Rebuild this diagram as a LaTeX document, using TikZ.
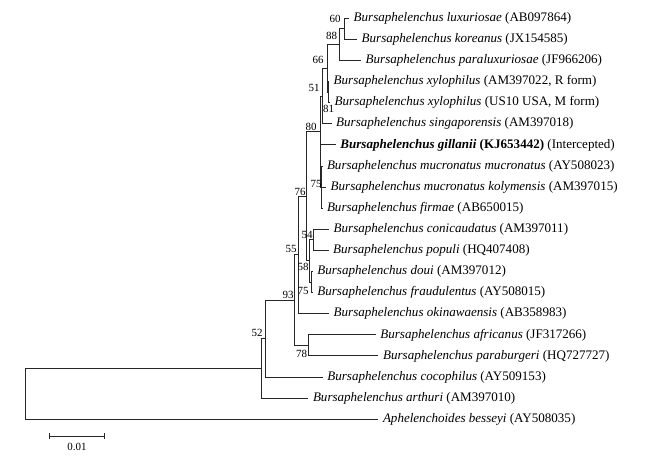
\documentclass[tikz,border=0pt]{standalone}
\usepackage{fontspec}
\setmainfont{Liberation Serif}
\usetikzlibrary{arrows.meta}
\tikzset{
  br_ln/.style = {line width=0.9bp, draw=black!85},
  leaf_n/.style = {anchor=west, inner xsep=4.5bp, inner ysep=0pt, font=\fontsize{13.1}{15}\selectfont},
  boot_n/.style = {inner sep=0pt, font=\fontsize{11}{13}\selectfont},
  scale_t/.style = {inner sep=0pt, font=\fontsize{11}{13}\selectfont},
}

\begin{document}
\begin{tikzpicture}[x=1bp, y=-1bp]
  \useasboundingbox (0,0) rectangle (645,456);
  % internal nodes
  \coordinate (root) at (25.7,393.75);
  \coordinate (n52) at (261.7,368.3);
  \coordinate (nY) at (265.7,338.55);
  \coordinate (n93) at (294.3,300.1);
  \coordinate (n78) at (308.3,345.35);
  \coordinate (n55) at (298.7,254.85);
  \coordinate (n76) at (306.7,196);
  \coordinate (nB) at (309,260.95);
  \coordinate (n54) at (313.3,239.85);
  \coordinate (nC) at (311,282.05);
  \coordinate (n80) at (320,131.05);
  \coordinate (nX) at (320.7,166);
  \coordinate (n75) at (321.7,187.1);
  \coordinate (n51) at (322.7,96.1);
  \coordinate (n66) at (327.3,68.4);
  \coordinate (n81) at (328,92.15);
  \coordinate (n88) at (339.3,44.7);
  \coordinate (n60) at (344.3,28.85);
  % leaves
  \node [leaf_n] (t0) at (349,18.3) {\textit{Bursaphelenchus luxuriosae} (AB097864)};
  \node [leaf_n] (t1) at (357,39.4) {\textit{Bursaphelenchus koreanus} (JX154585)};
  \node [leaf_n] (t2) at (361,60.5) {\textit{Bursaphelenchus paraluxuriosae} (JF966206)};
  \node [leaf_n] (t3) at (329,81.6) {\textit{Bursaphelenchus xylophilus} (AM397022, R form)};
  \node [leaf_n] (t4) at (330,102.7) {\textit{Bursaphelenchus xylophilus} (US10 USA, M form)};
  \node [leaf_n] (t5) at (331.5,123.8) {\textit{Bursaphelenchus singaporensis} (AM397018)};
  \node [leaf_n] (t6) at (335.7,144.9) {\textbf{\textit{Bursaphelenchus gillanii} (KJ653442)} (Intercepted)};
  \node [leaf_n] (t7) at (322.3,166) {\textit{Bursaphelenchus mucronatus mucronatus} (AY508023)};
  \node [leaf_n] (t8) at (326,187.1) {\textit{Bursaphelenchus mucronatus kolymensis} (AM397015)};
  \node [leaf_n] (t9) at (322.3,208.2) {\textit{Bursaphelenchus firmae} (AB650015)};
  \node [leaf_n] (t10) at (329,229.3) {\textit{Bursaphelenchus conicaudatus} (AM397011)};
  \node [leaf_n] (t11) at (328.5,250.4) {\textit{Bursaphelenchus populi} (HQ407408)};
  \node [leaf_n] (t12) at (312.7,271.5) {\textit{Bursaphelenchus doui} (AM397012)};
  \node [leaf_n] (t13) at (312.7,292.6) {\textit{Bursaphelenchus fraudulentus} (AY508015)};
  \node [leaf_n] (t14) at (329,313.7) {\textit{Bursaphelenchus okinawaensis} (AB358983)};
  \node [leaf_n] (t15) at (375.7,334.8) {\textit{Bursaphelenchus africanus} (JF317266)};
  \node [leaf_n] (t16) at (378.4,355.9) {\textit{Bursaphelenchus paraburgeri} (HQ727727)};
  \node [leaf_n] (t17) at (322.7,377) {\textit{Bursaphelenchus cocophilus} (AY509153)};
  \node [leaf_n] (t18) at (308.3,398.1) {\textit{Bursaphelenchus arthuri} (AM397010)};
  \node [leaf_n] (t19) at (378.3,419.2) {\textit{Aphelenchoides besseyi} (AY508035)};
  % branches
  \draw [br_ln] (root) |- (n52) (root) |- (t19.west);
  \draw [br_ln] (n52) |- (nY) (n52) |- (t18.west);
  \draw [br_ln] (nY) |- (n93) (nY) |- (t17.west);
  \draw [br_ln] (n93) |- (n55) (n93) |- (n78);
  \draw [br_ln] (n78) |- (t15.west) (n78) |- (t16.west);
  \draw [br_ln] (n55) |- (n76) (n55) |- (t14.west);
  \draw [br_ln] (n76) |- (n80) (n76) |- (nB);
  \draw [br_ln] (nB) |- (n54) (nB) |- (nC);
  \draw [br_ln] (n54) |- (t10.west) (n54) |- (t11.west);
  \draw [br_ln] (nC) |- (t12.west) (nC) |- (t13.west);
  \draw [br_ln] (n80) |- (n51) (n80) |- (nX);
  \draw [br_ln] (nX) |- (t6.west) (nX) |- (n75);
  \draw [br_ln] (n75) |- (t7.west) (n75) |- (t8.west) (n75) |- (t9.west);
  \draw [br_ln] (n51) |- (n66) (n51) |- (t5.west);
  \draw [br_ln] (n66) |- (n88) (n66) |- (n81);
  \draw [br_ln] (n81) |- (t3.west) (n81) |- (t4.west);
  \draw [br_ln] (n88) |- (n60) (n88) |- (t2.west);
  \draw [br_ln] (n60) |- (t0.west) (n60) |- (t1.west);
  % bootstrap values
  \node [boot_n] (b60) at (335,18.5) {60};
  \node [boot_n] (b88) at (331.5,35.5) {88};
  \node [boot_n] (b66) at (318,60) {66};
  \node [boot_n] (b51) at (314,87.5) {51};
  \node [boot_n] (b81) at (328.5,108.5) {81};
  \node [boot_n] (b80) at (311,127) {80};
  \node [boot_n] (b75a) at (316,183.5) {75};
  \node [boot_n] (b76) at (300,192) {76};
  \node [boot_n] (b54) at (307,234.5) {54};
  \node [boot_n] (b55) at (291,249) {55};
  \node [boot_n] (b58) at (303,267) {58};
  \node [boot_n] (b75b) at (303,290.5) {75};
  \node [boot_n] (b93) at (288,294.5) {93};
  \node [boot_n] (b78) at (301.5,354) {78};
  \node [boot_n] (b52) at (257,333) {52};
  % scale bar
  \coordinate (sb_l) at (49.3,436);
  \coordinate (sb_r) at (105,436);
  \draw [br_ln, {Bar[width=6bp]}-{Bar[width=6bp]}] (sb_l) -- (sb_r);
  \node [scale_t] (sb_t) at (77,446.5) {0.01};
\end{tikzpicture}
\end{document}
